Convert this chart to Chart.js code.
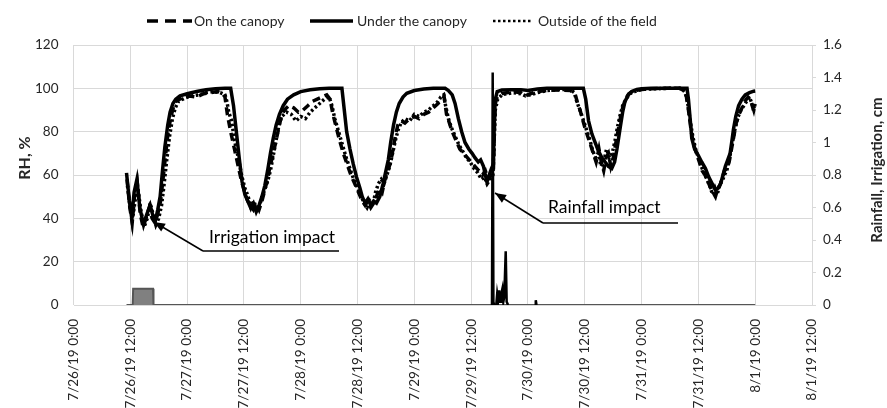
<!DOCTYPE html>
<html><head><meta charset="utf-8">
<script src="https://cdn.jsdelivr.net/npm/chart.js@4/dist/chart.umd.min.js"></script>
<style>html,body{margin:0;padding:0;background:#fff;}#wrap{width:887px;height:408px;}</style>
</head><body><div id="wrap"><canvas id="c" width="887" height="408"></canvas></div>
<script>
// x values are hours after 7/26/19 0:00
const xTickLabels = ["7/26/19 0:00","7/26/19 12:00","7/27/19 0:00","7/27/19 12:00","7/28/19 0:00","7/28/19 12:00","7/29/19 0:00","7/29/19 12:00","7/30/19 0:00","7/30/19 12:00","7/31/19 0:00","7/31/19 12:00","8/1/19 0:00","8/1/19 12:00"];

const underH = [11.2,11.8,12.3,12.8,13.4,14.0,14.8,15.5,16.2,16.8,17.3,17.8,18.3,18.8,19.3,19.9,20.4,21.0,21.6,22.5,24,26,28,30,32,33.2,33.8,34.4,35.0,35.6,36.2,36.8,37.4,38.0,38.6,39.2,39.8,40.4,41.0,41.6,42.2,42.8,43.5,44.3,45.2,46.5,48,50,52,54,56.7,57.2,57.7,58.4,59.1,59.8,60.5,61.0,61.6,62.2,62.8,63.4,64.0,64.7,65.4,66.0,66.5,67.0,67.6,68.2,68.8,69.6,70.4,72,74,76,78.5,79.2,80.0,80.6,81.3,82.0,82.7,83.5,84.2,84.8,85.5,86.0,86.6,87.0,87.3,87.8,88.3,88.7,88.9,89.1,89.5,90.5,92.5,94.5,96,98,100,107.7,108.2,108.8,109.5,110.2,110.9,111.6,112.3,113.0,113.7,114.3,114.8,115.5,116.0,116.5,117.2,117.9,119,120,122,129.6,129.9,130.3,130.6,131.2,132.0,132.7,133.5,134.2,134.9,135.6,136.2,136.7,137.2,137.7,138.2,138.7,139.1,139.4,139.9,140.5,141.2,141.9,142.8,143.7,144];
const underRH = [61,48,40,52,58,45,37,42,46,41,39,44,50,62,73,83,89,93,95,96.5,97.5,98.5,99.3,99.8,100,100,92,80,68,57,51,48,45,47,43,46,50,55,62,70,77,83,88,92,95,97,98.5,99.3,99.8,100,100,90,80,72,65,59,54,50,47,49,46,48,47,50,56,62,67,75,83,89,93,96,97.7,99,99.7,100,100,99,97,93,86,80,75,72,70,68,66,67,64,60,57,60,63,65,85,95,98.5,99.2,99.4,99.4,99,99.7,100,100,95,85,79,75,71,68,66,64,63,66,72,82,89,94,97,98.5,99.5,99.8,100,100,95,85,77,72,69,66,63,59,56,53,54,56,60,64,67,70,76,81,87,92,95,97,98,98.7,98.8];

const onH = [11.3,11.9,12.4,12.9,13.5,14.1,14.7,15.3,16.0,16.6,17.2,17.8,18.4,18.9,19.5,20.0,20.6,21.2,21.8,23,24.5,26,27.5,29,30.5,31.5,32,32.5,33.2,34.0,34.8,35.5,36.2,36.8,37.4,38.0,38.6,39.2,39.8,40.4,41.0,41.5,42.0,42.6,43.2,43.8,44.5,45.5,46.5,47.5,48.5,49.5,50.5,51.5,52.5,53.5,54.2,54.8,55.5,56.2,57.0,57.8,58.6,59.4,60.2,61.0,61.6,62.2,62.8,63.4,64.0,64.6,65.2,65.8,66.4,67.0,67.5,68.0,68.5,69.2,70.0,71.0,72.0,73.0,74.0,75.0,76.0,77.0,77.8,78.3,78.8,79.4,80.0,80.8,81.6,82.4,83.2,84.0,84.8,85.6,86.4,87.0,87.6,88.2,88.7,88.9,89.1,89.5,90.5,91.5,93,94.5,95.5,96.5,98,100,103,105,106,106.5,107.0,107.5,108.0,108.6,109.2,109.8,110.4,111.0,111.5,112.0,112.5,113.0,113.5,114.0,114.5,115.0,115.5,116.0,116.6,117.3,118.5,120,122,125,128,129.0,129.4,129.9,130.5,131.0,131.6,132.2,132.8,133.4,134.0,134.6,135.1,135.6,136.0,136.5,137.0,137.5,138.0,138.5,139.0,139.5,140.0,140.6,141.2,141.8,142.5,143.0,143.5,144];
const onRH = [58,45,38,50,56,42,36,40,45,40,38,42,48,58,70,80,87,92,94.5,95.5,96.5,96,97.5,98,98.5,97.5,96,88,80,72,64,57,52,48,46,44,47,44,48,53,58,64,68,74,80,86,90,92,91,89,90,92,94,95,96,97,95,88,82,76,70,65,60,56,52,48,46,48,45,47,50,54,52,58,62,66,72,78,83,85,84,86,87,86,88,89,91,93,95,96,88,84,80,76,72,70,68,66,64,62,60,62,58,60,62,80,93,96,97.5,98,98.5,98,96.5,97.5,98.5,99,99.2,99,97,93,90,86,82,78,74,70,66,72,66,62,68,70,64,68,74,80,86,91,95,97.5,99,99.5,99.8,100,100,99,97,90,80,74,70,66,62,60,57,54,52,50,53,55,58,62,63,66,72,78,84,88,91,94,96,95,91,92];

const outH = [11.4,12.0,12.5,13.0,13.6,14.2,14.9,15.6,16.2,16.8,17.4,18.0,18.6,19.1,19.7,20.3,20.9,21.5,22.2,23.5,25,26.5,28,29.5,31,32,32.4,32.8,33.4,34.0,34.8,35.5,36.2,36.9,37.5,38.1,38.7,39.3,39.9,40.5,41.0,41.6,42.2,42.8,43.4,44.0,45.0,46.0,47.0,48.0,49.0,50.0,51.0,52.0,53.0,54.0,54.6,55.2,56.0,56.8,57.6,58.4,59.2,60.0,60.8,61.4,62.0,62.6,63.2,63.8,64.4,65.0,65.6,66.2,66.8,67.4,68.0,68.6,69.2,70.0,71.0,72.0,73.0,74.0,75.0,76.0,77.0,77.6,78.2,78.6,79.2,79.8,80.6,81.4,82.2,83.0,83.8,84.6,85.4,86.2,86.8,87.4,88.0,88.6,88.9,89.1,89.6,90.5,91.5,93,94.5,95.5,96.5,98,100,103,105,105.8,106.3,106.8,107.3,107.9,108.5,109.1,109.7,110.3,110.9,111.4,112.0,112.6,113.2,113.8,114.4,114.9,115.4,116.0,116.7,117.5,118.5,120,123,126,128.5,129.2,129.7,130.2,130.8,131.4,132.0,132.6,133.2,133.8,134.4,135.0,135.5,136.0,136.5,137.0,137.5,138.0,138.6,139.2,139.8,140.4,141.0,141.6,142.2,142.8,143.3,143.7,144];
const outRH = [55,44,40,48,54,44,36,40,47,42,37,40,46,55,67,78,86,91,94,95.5,96.5,97,98,98.5,98,97,94,89,85,76,68,60,54,50,45,48,44,46,50,54,57,62,69,76,83,87,89,88,85,87,86,89,91,93,95,96,92,86,80,74,68,63,58,54,50,47,45,48,46,52,56,58,56,60,64,70,76,81,84,86,85,88,87,89,90,92,94,96,97,92,86,82,78,74,71,68,66,63,61,58,59,56,58,60,78,90,95,97,97.5,98,97.5,96.5,97,98,99,99.5,99.3,98,94,91,88,84,80,76,71,68,70,64,66,72,68,70,76,82,87,92,95,97.5,98.5,99.5,99.8,100,100,98,94,86,78,72,68,64,61,58,55,51,54,51,56,57,60,62,68,75,82,87,90,92,94,96,93,90,93];

// right axis (cm)
const irrH = [11.2,12.5,12.6,16.8,16.9,144];
const irrCm = [0,0,0.1,0.1,0,0];
const rainH = [88.4,88.55,88.7,88.85,89.3,89.5,89.7,89.9,90.1,90.3,90.6,90.8,91.0,91.3,91.5,91.8,95,97.5,97.65,97.8];
const rainCm = [0,1.43,0.02,0,0,0.07,0.03,0.09,0.02,0.06,0.1,0.02,0.05,0.33,0.02,0,null,0,0.03,0];

function pts(xs, ys){ return xs.map((x,i)=>({x:x, y:ys[i]})); }

const FONT = "Lato";
const TXT = "#262626";

const overlay = {
  id: 'overlay',
  afterDatasetsDraw(chart){
    const ctx = chart.ctx;
    ctx.save();
    function arrow(x1,y1,x2,y2){
      ctx.strokeStyle = "#000"; ctx.lineWidth = 1.5;
      ctx.beginPath(); ctx.moveTo(x1,y1); ctx.lineTo(x2,y2); ctx.stroke();
      const a = Math.atan2(y2-y1, x2-x1), L = 11, W = 4.5;
      ctx.fillStyle = "#000";
      ctx.beginPath();
      ctx.moveTo(x2,y2);
      ctx.lineTo(x2 - L*Math.cos(a) + W*Math.sin(a), y2 - L*Math.sin(a) - W*Math.cos(a));
      ctx.lineTo(x2 - L*Math.cos(a) - W*Math.sin(a), y2 - L*Math.sin(a) + W*Math.cos(a));
      ctx.closePath(); ctx.fill();
    }
    ctx.font = "17.5px " + FONT; ctx.fillStyle = "#000"; ctx.textBaseline = "middle"; ctx.textAlign = "left";
    ctx.fillText("Irrigation impact", 209, 237);
    ctx.strokeStyle = "#000"; ctx.lineWidth = 1.5;
    ctx.beginPath(); ctx.moveTo(203,251); ctx.lineTo(339,251); ctx.stroke();
    arrow(203,251,154,222);
    ctx.fillStyle = "#000";
    ctx.fillText("Rainfall impact", 548, 207);
    ctx.beginPath(); ctx.moveTo(543,223); ctx.lineTo(678,223); ctx.stroke();
    arrow(543,223,495,193);
    ctx.restore();
  },
  afterDraw(chart){
    const ctx = chart.ctx;
    ctx.save();
    ctx.fillStyle = TXT; ctx.font = "bold 16px " + FONT;
    ctx.textAlign = "center"; ctx.textBaseline = "middle";
    ctx.translate(25, 158); ctx.rotate(-Math.PI/2); ctx.fillText("RH, %", 0, 0);
    ctx.setTransform(1,0,0,1,0,0);
    ctx.font = "bold 15px " + FONT;
    ctx.translate(877, 170); ctx.rotate(-Math.PI/2); ctx.fillText("Rainfall, Irrigation, cm", 0, 0);
    ctx.setTransform(1,0,0,1,0,0);
    const ly = 21;
    ctx.strokeStyle = "#000"; ctx.lineWidth = 3.5;
    ctx.setLineDash([11,7]); ctx.beginPath(); ctx.moveTo(147,ly); ctx.lineTo(192,ly); ctx.stroke();
    ctx.setLineDash([]); ctx.beginPath(); ctx.moveTo(310,ly); ctx.lineTo(353,ly); ctx.stroke();
    ctx.lineWidth = 2.5; ctx.setLineDash([2.5,2.5]); ctx.beginPath(); ctx.moveTo(493,ly); ctx.lineTo(532,ly); ctx.stroke();
    ctx.setLineDash([]);
    ctx.font = "14px " + FONT; ctx.fillStyle = TXT; ctx.textAlign = "left"; ctx.textBaseline = "middle";
    ctx.fillText("On the canopy", 194, ly);
    ctx.fillText("Under the canopy", 357, ly);
    ctx.fillText("Outside of the field", 538, ly);
    ctx.restore();
  }
};

new Chart(document.getElementById('c'), {
  type: 'line',
  data: {
    datasets: [
      {label:'On the canopy', data: pts(onH,onRH), yAxisID:'y', borderColor:'#000', borderWidth:3.5, borderDash:[8,5], pointRadius:0, tension:0, fill:false},
      {label:'Under the canopy', data: pts(underH,underRH), yAxisID:'y', borderColor:'#000', borderWidth:3.5, pointRadius:0, tension:0, fill:false},
      {label:'Outside of the field', data: pts(outH,outRH), yAxisID:'y', borderColor:'#000', borderWidth:3.5, borderDash:[2.5,2.5], pointRadius:0, tension:0, fill:false},
      {label:'Rainfall', data: pts(rainH,rainCm), yAxisID:'y2', borderColor:'#000', borderWidth:2.5, pointRadius:0, tension:0, fill:false, spanGaps:false},
      {label:'Irrigation', data: pts(irrH,irrCm), yAxisID:'y2', borderColor:'#555', backgroundColor:'#808080', borderWidth:2, pointRadius:0, tension:0, fill:'origin'}
    ]
  },
  options: {
    responsive:false, animation:false, maintainAspectRatio:false,
    layout:{padding:{top:45, left:0, right:0, bottom:0}},
    plugins:{legend:{display:false}, tooltip:{enabled:false}},
    scales:{
      x:{type:'linear', min:0, max:156,
        afterBuildTicks(s){ s.ticks = xTickLabels.map((_,i)=>({value:i*12})); },
        afterFit(s){ s.height = 103; },
        ticks:{autoSkip:false, minRotation:90, maxRotation:90, padding:14, color:TXT, font:{family:FONT,size:13.5},
          callback:(v)=>xTickLabels[Math.round(v/12)]},
        grid:{color:'#d9d9d9', lineWidth:1, drawTicks:false}, border:{display:false}},
      y:{position:'left', min:0, max:120,
        afterFit(s){ s.width = 73.5; },
        ticks:{stepSize:20, padding:15, color:TXT, font:{family:FONT,size:13.5}},
        grid:{color:'#d9d9d9', lineWidth:1, drawTicks:false}, border:{display:false}},
      y2:{position:'right', min:0, max:1.6,
        afterFit(s){ s.width = 75; },
        afterBuildTicks(s){ s.ticks = [0,0.2,0.4,0.6,0.8,1,1.2,1.4,1.6].map(v=>({value:v})); },
        ticks:{padding:7, color:TXT, font:{family:FONT,size:13.5}, callback:(v)=>String(Math.round(v*10)/10)},
        grid:{drawOnChartArea:false, color:'#d9d9d9', tickLength:4}, border:{display:true, color:'#d9d9d9'}}
    }
  },
  plugins:[overlay]
});
</script></body></html>
